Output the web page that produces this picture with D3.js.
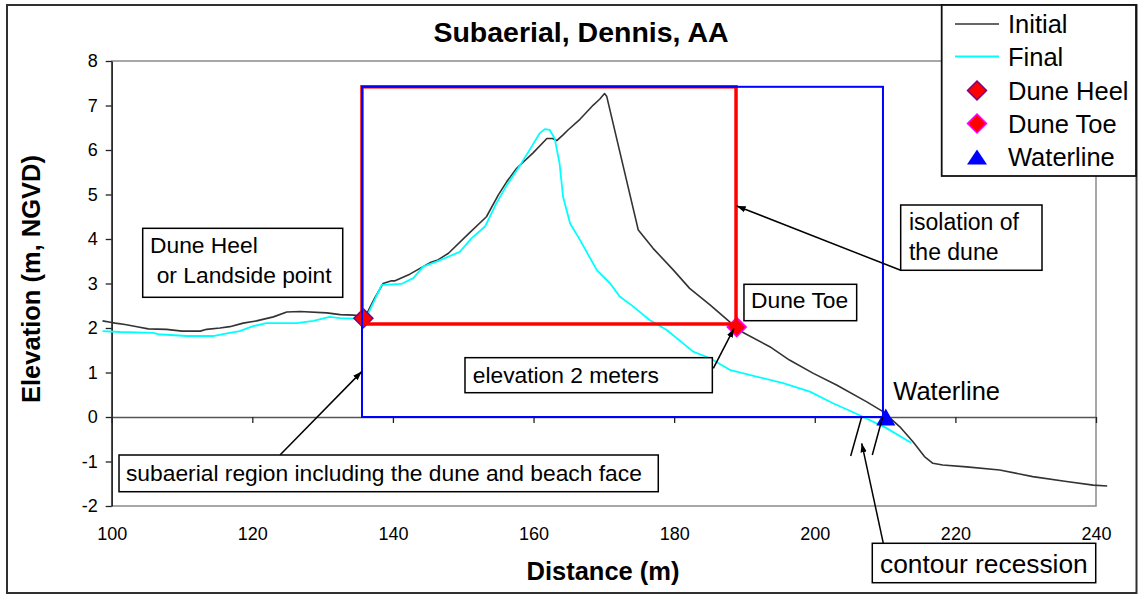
<!DOCTYPE html>
<html>
<head>
<meta charset="utf-8">
<script src="https://cdn.jsdelivr.net/npm/d3@7"></script>
<style>
  html, body { margin: 0; padding: 0; background: #fff; }
  svg { display: block; font-family: "Liberation Sans", Arial, sans-serif; }
</style>
</head>
<body>
<svg id="chart" width="1139" height="596"></svg>
<script>
// Beach profile, distance (m) vs elevation (m, NGVD)
const initialProfile = [
  [98.7,2.16],[99.8,2.13],[100.5,2.11],[101.9,2.08],[103.6,2.03],[105.2,1.98],[107.8,1.97],
  [110.0,1.93],[112.6,1.93],[113.5,1.97],[115.4,2.00],[116.8,2.03],[118.7,2.11],[120.6,2.16],
  [123.0,2.25],[124.9,2.36],[126.8,2.37],[130.6,2.34],[132.5,2.30],[134.4,2.29],[135.5,2.27],
  [136.3,2.33],[137.4,2.67],[138.6,3.00],[139.8,3.06],[140.3,3.06],[142.4,3.21],[145.3,3.47],
  [146.4,3.53],[147.9,3.68],[150.7,4.11],[153.3,4.50],[155.0,4.99],[156.2,5.29],[157.6,5.59],
  [159.9,5.93],[161.9,6.26],[162.7,6.26],[163.3,6.21],[164.2,6.34],[164.9,6.45],[166.6,6.69],
  [168.5,7.01],[169.4,7.14],[170.1,7.27],[170.4,7.21],[174.9,4.20],[177.0,3.79],[179.9,3.30],
  [182.2,2.89],[185.1,2.52],[187.9,2.14],[188.9,2.02],[189.8,1.90],[193.6,1.58],[196.4,1.28],
  [199.8,0.98],[203.1,0.72],[207.4,0.34],[209.7,0.12],[212.1,-0.22],[214.0,-0.56],[215.6,-0.89],
  [216.8,-1.04],[218.2,-1.08],[221.6,-1.12],[226.3,-1.19],[231.0,-1.34],[235.8,-1.45],
  [239.6,-1.53],[241.6,-1.55]
];
const finalProfile = [
  [98.7,1.93],[101.2,1.91],[105.9,1.89],[106.6,1.86],[110.7,1.82],[114.4,1.82],[116.4,1.88],
  [118.2,1.93],[120.1,2.04],[122.0,2.11],[126.3,2.11],[128.7,2.16],[131.0,2.25],[132.5,2.22],
  [134.8,2.21],[135.5,2.21],[136.5,2.33],[138.4,2.97],[141.2,2.99],[142.9,3.12],[144.3,3.38],
  [146.2,3.49],[149.5,3.71],[151.2,4.02],[153.1,4.28],[154.7,4.80],[156.2,5.21],[158.1,5.66],
  [159.7,6.07],[160.9,6.38],[161.6,6.47],[162.3,6.45],[163.0,6.26],[163.7,5.70],[164.2,4.95],
  [165.2,4.35],[166.6,3.98],[169.0,3.30],[170.9,3.00],[172.3,2.70],[174.2,2.48],[176.5,2.18],
  [178.9,1.96],[182.7,1.47],[185.1,1.32],[187.9,1.06],[191.7,0.91],[195.5,0.76],[199.3,0.57],
  [202.6,0.31],[206.4,0.04],[210.2,-0.25],[213.7,-0.58]
];
const duneHeel = [[135.8, 2.22]];
const duneToe = [[188.9, 2.02]];
const waterline = [[210.1, 0]];

// dune and subaerial extents (distance from, distance to, elevation from, elevation to)
const subaerialRegion = [135.6, 209.7, 0, 7.42];
const duneRegion = [135.6, 188.8, 2.09, 7.42];

const xTicks = [100, 120, 140, 160, 180, 200, 220, 240];
const yTicks = [-2, -1, 0, 1, 2, 3, 4, 5, 6, 7, 8];

const legendLabels = ["Initial", "Final", "Dune Heel", "Dune Toe", "Waterline"];

const svg = d3.select("#chart");
const FONT = "'Liberation Sans', Arial, sans-serif";
const plain = d => String(d); // hyphen-minus for negatives

const x = d3.scaleLinear().domain([100, 240]).range([111.7, 1096]);
const y = d3.scaleLinear().domain([-2, 8]).range([506, 61]);

// chart frame
svg.append("rect").attr("x", 0).attr("y", 0).attr("width", 1139).attr("height", 596).attr("fill", "#fff");
svg.append("rect").attr("x", 7).attr("y", 5).attr("width", 1129.5).attr("height", 588)
  .attr("fill", "none").attr("stroke", "#303030").attr("stroke-width", 2);

// plot area border
svg.append("rect")
  .attr("x", x(100)).attr("y", y(8))
  .attr("width", x(240) - x(100)).attr("height", y(-2) - y(8))
  .attr("fill", "none").attr("stroke", "#8a8a8a").attr("stroke-width", 1.5);

// title
svg.append("text").attr("x", 581).attr("y", 41.7).attr("text-anchor", "middle")
  .attr("font-size", 28.5).attr("font-weight", "bold").text("Subaerial, Dennis, AA");

// y axis
const yAxis = svg.append("g").attr("transform", `translate(${x(100)},0)`)
  .call(d3.axisLeft(y).tickValues(yTicks).tickFormat(plain).tickSize(6).tickSizeOuter(0).tickPadding(8));
yAxis.select(".domain").attr("stroke", "#222").attr("stroke-width", 1.5);
yAxis.selectAll(".tick line").attr("stroke", "#222").attr("stroke-width", 1.3);
yAxis.selectAll("text").attr("font-size", 18).attr("font-family", FONT).attr("fill", "#000");

// x axis on the zero line, labels below the plot area
const xAxis = svg.append("g").attr("transform", `translate(0,${y(0)})`)
  .call(d3.axisBottom(x).tickValues(xTicks).tickFormat(plain).tickSize(6).tickSizeOuter(0));
xAxis.select(".domain").attr("stroke", "#555").attr("stroke-width", 1.5);
xAxis.selectAll(".tick line").attr("stroke", "#222").attr("stroke-width", 1.3);
xAxis.selectAll("text").attr("font-size", 18).attr("font-family", FONT).attr("fill", "#000")
  .attr("dy", 0).attr("y", 540 - y(0));

// axis titles
svg.append("text").attr("x", 603).attr("y", 580).attr("text-anchor", "middle")
  .attr("font-size", 25.5).attr("font-weight", "bold").text("Distance (m)");
svg.append("text").attr("transform", "translate(40,279) rotate(-90)").attr("text-anchor", "middle")
  .attr("font-size", 25.5).attr("font-weight", "bold").text("Elevation (m, NGVD)");

// profiles
const line = d3.line().x(d => x(d[0])).y(d => y(d[1]));
svg.append("path").datum(initialProfile).attr("d", line)
  .attr("fill", "none").attr("stroke", "#333333").attr("stroke-width", 1.6).attr("stroke-linejoin", "round");
svg.append("path").datum(finalProfile).attr("d", line)
  .attr("fill", "none").attr("stroke", "#00FFFF").attr("stroke-width", 1.8).attr("stroke-linejoin", "round");

// marker shapes
const diamond = r => `M0,${-r}L${r},0L0,${r}L${-r},0Z`;
const triangle = (w, h) => `M0,${-h / 2}L${w / 2},${h / 2}L${-w / 2},${h / 2}Z`;

svg.selectAll(".heel").data(duneHeel).join("path").attr("class", "heel")
  .attr("transform", d => `translate(${x(d[0])},${y(d[1])})`)
  .attr("d", diamond(9.5)).attr("fill", "#FF0000").attr("stroke", "#800080").attr("stroke-width", 1.5);
svg.selectAll(".toe").data(duneToe).join("path").attr("class", "toe")
  .attr("transform", d => `translate(${x(d[0])},${y(d[1])})`)
  .attr("d", diamond(9.5)).attr("fill", "#FF0000").attr("stroke", "#FF00FF").attr("stroke-width", 1.5);
svg.selectAll(".wl").data(waterline).join("path").attr("class", "wl")
  .attr("transform", d => `translate(${x(d[0])},${y(d[1])})`)
  .attr("d", triangle(19, 17)).attr("fill", "#0000FF");

// dune isolation (red) and subaerial region (blue)
const boxRect = (g, b, color, width) => g.append("rect")
  .attr("x", x(b[0])).attr("y", y(b[3]))
  .attr("width", x(b[1]) - x(b[0])).attr("height", y(b[2]) - y(b[3]))
  .attr("fill", "none").attr("stroke", color).attr("stroke-width", width);
boxRect(svg, duneRegion, "#FF0000", 3.5);
boxRect(svg, subaerialRegion, "#0000FF", 2);

// annotations
const defs = svg.append("defs");
defs.append("marker").attr("id", "arrow").attr("viewBox", "0 0 10 10")
  .attr("refX", 10).attr("refY", 5).attr("markerWidth", 9).attr("markerHeight", 9)
  .attr("markerUnits", "userSpaceOnUse").attr("orient", "auto")
  .append("path").attr("d", "M0,1.5L10,5L0,8.5Z").attr("fill", "#000");

const ann = svg.append("g");
const arrows = [
  { from: [123.94, -0.854], to: [135.56, 1.02], head: true },
  { from: [185.57, 1.094], to: [188.51, 1.99], head: true },
  { from: [212.22, 3.297], to: [188.9, 4.742], head: true },
  { from: [209.75, -2.838], to: [206.68, -0.591], head: true },
  { from: [205.11, -0.876], to: [206.68, 0.007], head: false },
  { from: [208.18, -0.854], to: [209.66, 0.007], head: false }
];
arrows.forEach(a => {
  ann.append("line")
    .attr("x1", x(a.from[0])).attr("y1", y(a.from[1]))
    .attr("x2", x(a.to[0])).attr("y2", y(a.to[1]))
    .attr("stroke", "#000").attr("stroke-width", 1.5)
    .attr("marker-end", a.head ? "url(#arrow)" : null);
});

const notes = [
  { box: [104.41, 132.86, 4.24, 2.69], size: 22.8,
    lines: [{ t: "Dune Heel", at: [105.45, 3.685] }, { t: "or Landside point", at: [106.4, 3.004] }] },
  { box: [101.04, 177.74, -0.854, -1.679], size: 22.8,
    lines: [{ t: "subaerial region including the dune and beach face", at: [102.03, -1.438] }] },
  { box: [150.25, 185.43, 1.333, 0.546], size: 22.8,
    lines: [{ t: "elevation 2 meters", at: [151.35, 0.771] }] },
  { box: [189.93, 205.96, 2.982, 2.164], size: 22.8,
    lines: [{ t: "Dune Toe", at: [190.93, 2.45] }] },
  { box: [212.22, 232.32, 4.764, 3.297], size: 23,
    lines: [{ t: "isolation of", at: [213.4, 4.202] }, { t: "the dune", at: [213.4, 3.528] }] },
  { box: [208.18, 239.96, -2.838, -3.724], size: 26.3,
    lines: [{ t: "contour recession", at: [209.29, -3.499] }] },
  { box: null, size: 25.5,
    lines: [{ t: "Waterline", at: [211.17, 0.382] }] }
];
notes.forEach(n => {
  if (n.box) {
    ann.append("rect")
      .attr("x", x(n.box[0])).attr("y", y(n.box[2]))
      .attr("width", x(n.box[1]) - x(n.box[0])).attr("height", y(n.box[3]) - y(n.box[2]))
      .attr("fill", "#fff").attr("stroke", "#000").attr("stroke-width", 1.5);
  }
  n.lines.forEach(l => {
    ann.append("text").attr("x", x(l.at[0])).attr("y", y(l.at[1]))
      .attr("font-size", n.size).attr("fill", "#000").text(l.t);
  });
});

// legend
const legend = svg.append("g");
legend.append("rect").attr("x", 941.7).attr("y", 5).attr("width", 194.3).attr("height", 171)
  .attr("fill", "#fff").attr("stroke", "#111").attr("stroke-width", 1.8);
const rowY = [24, 56.5, 90.5, 123.5, 157];
const legendSymbols = [
  g => g.append("line").attr("x1", -22).attr("x2", 22).attr("stroke", "#333").attr("stroke-width", 1.6),
  g => g.append("line").attr("x1", -22).attr("x2", 22).attr("stroke", "#00FFFF").attr("stroke-width", 1.8),
  g => g.append("path").attr("d", diamond(9.5)).attr("fill", "#FF0000").attr("stroke", "#800080").attr("stroke-width", 1.5),
  g => g.append("path").attr("d", diamond(9.5)).attr("fill", "#FF0000").attr("stroke", "#FF00FF").attr("stroke-width", 1.5),
  g => g.append("path").attr("d", triangle(20, 15)).attr("fill", "#0000FF")
];
legendLabels.forEach((lab, i) => {
  const g = legend.append("g").attr("transform", `translate(977,${rowY[i]})`);
  legendSymbols[i](g);
  legend.append("text").attr("x", 1008).attr("y", rowY[i] + 9.3)
    .attr("font-size", 25.5).attr("fill", "#000").text(lab);
});
</script>
</body>
</html>
